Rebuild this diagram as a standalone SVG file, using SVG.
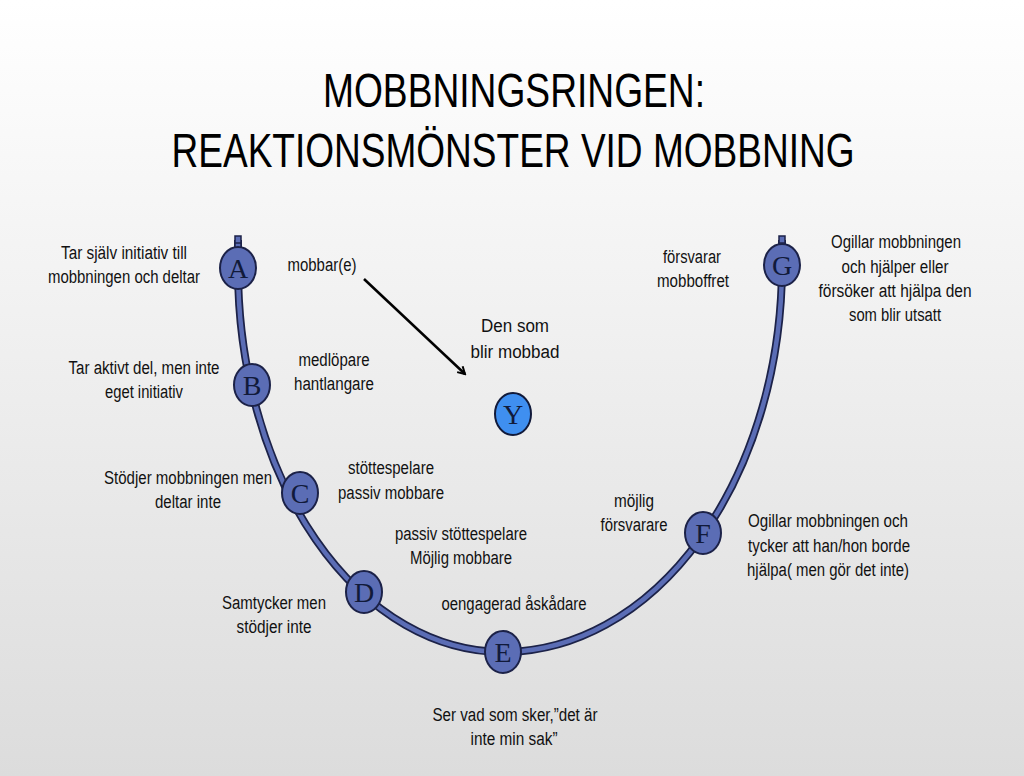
<svg xmlns="http://www.w3.org/2000/svg" width="1024" height="776" viewBox="0 0 1024 776">
<defs>
<linearGradient id="bg" x1="0" y1="0" x2="0" y2="1">
<stop offset="0" stop-color="#ffffff"/>
<stop offset="1" stop-color="#dcdcdc"/>
</linearGradient>
<marker id="arr" markerWidth="10" markerHeight="10" refX="8" refY="5" orient="auto" markerUnits="userSpaceOnUse">
<path d="M1,1 L8,5 L1,9" fill="none" stroke="#000" stroke-width="2"/>
</marker>
<style>
.t{font-family:"Liberation Sans",Arial,sans-serif;font-size:18px;fill:#111;text-anchor:middle}
.title{font-family:"Liberation Sans",Arial,sans-serif;font-size:48px;fill:#000;text-anchor:middle}
.node{fill:#5b6db5;stroke:#1c2248;stroke-width:2}
.nodeY{fill:#3f8ff0;stroke:#111a3a;stroke-width:2}
.lt{font-family:"Liberation Serif","Times New Roman",serif;font-size:28px;fill:#111a3a;text-anchor:middle}
</style>
</defs>
<rect width="1024" height="776" fill="url(#bg)"/>
<text class="title" x="514" y="107" textLength="382" lengthAdjust="spacingAndGlyphs">MOBBNINGSRINGEN:</text>
<text class="title" x="513" y="167" textLength="683" lengthAdjust="spacingAndGlyphs">REAKTIONSMÖNSTER VID MOBBNING</text>
<g id="connectors">
<path d="M238,240 L238,268 A265,384 0 0 0 503,652 A279,387 0 0 0 782,265 L782,240" fill="none" stroke="#1c2248" stroke-width="8"/>
<path d="M238,240 L238,268 A265,384 0 0 0 503,652 A279,387 0 0 0 782,265 L782,240" fill="none" stroke="#5b6db5" stroke-width="4.5"/>
<rect x="235" y="236" width="6" height="7" fill="#5b6db5" stroke="#1c2248" stroke-width="1.5"/>
<rect x="779" y="236" width="6" height="7" fill="#5b6db5" stroke="#1c2248" stroke-width="1.5"/>
<line x1="364" y1="279" x2="465" y2="374" stroke="#000" stroke-width="2.5" marker-end="url(#arr)"/>
</g>
<g id="nodeA"><ellipse class="node" cx="238" cy="268" rx="18" ry="21"/><text class="lt" x="238" y="278">A</text></g>
<g id="nodeB"><ellipse class="node" cx="252" cy="385" rx="18" ry="21"/><text class="lt" x="252" y="395">B</text></g>
<g id="nodeC"><ellipse class="node" cx="300" cy="493" rx="18" ry="21"/><text class="lt" x="300" y="503">C</text></g>
<g id="nodeD"><ellipse class="node" cx="364" cy="592" rx="18" ry="21"/><text class="lt" x="364" y="602">D</text></g>
<g id="nodeE"><ellipse class="node" cx="503" cy="652" rx="18" ry="21"/><text class="lt" x="503" y="662">E</text></g>
<g id="nodeF"><ellipse class="node" cx="703" cy="533" rx="18" ry="21"/><text class="lt" x="703" y="543">F</text></g>
<g id="nodeG"><ellipse class="node" cx="782" cy="265" rx="18" ry="21"/><text class="lt" x="782" y="275">G</text></g>
<g id="nodeY"><ellipse class="nodeY" cx="513" cy="414" rx="18" ry="21"/><text class="lt" x="513" y="424">Y</text></g>
<g id="labels">
<text class="t" x="124" y="259" textLength="126" lengthAdjust="spacingAndGlyphs">Tar själv initiativ till</text>
<text class="t" x="124" y="283" textLength="152" lengthAdjust="spacingAndGlyphs">mobbningen och deltar</text>
<text class="t" x="322" y="271" textLength="69" lengthAdjust="spacingAndGlyphs">mobbar(e)</text>
<text class="t" x="515" y="332" textLength="68" lengthAdjust="spacingAndGlyphs">Den som</text>
<text class="t" x="515" y="358" textLength="89" lengthAdjust="spacingAndGlyphs">blir mobbad</text>
<text class="t" x="692" y="263" textLength="58" lengthAdjust="spacingAndGlyphs">försvarar</text>
<text class="t" x="693" y="287" textLength="72" lengthAdjust="spacingAndGlyphs">mobboffret</text>
<text class="t" x="896" y="248" textLength="130" lengthAdjust="spacingAndGlyphs">Ogillar mobbningen</text>
<text class="t" x="895" y="273" textLength="107" lengthAdjust="spacingAndGlyphs">och hjälper eller</text>
<text class="t" x="895" y="297" textLength="153" lengthAdjust="spacingAndGlyphs">försöker att  hjälpa den</text>
<text class="t" x="895" y="321" textLength="92" lengthAdjust="spacingAndGlyphs">som blir utsatt</text>
<text class="t" x="144" y="374" textLength="151" lengthAdjust="spacingAndGlyphs">Tar aktivt del, men inte</text>
<text class="t" x="144" y="398" textLength="78" lengthAdjust="spacingAndGlyphs">eget initiativ</text>
<text class="t" x="334" y="366" textLength="71" lengthAdjust="spacingAndGlyphs">medlöpare</text>
<text class="t" x="334" y="390" textLength="80" lengthAdjust="spacingAndGlyphs">hantlangare</text>
<text class="t" x="188" y="484" textLength="168" lengthAdjust="spacingAndGlyphs">Stödjer mobbningen men</text>
<text class="t" x="188" y="508" textLength="66" lengthAdjust="spacingAndGlyphs">deltar inte</text>
<text class="t" x="391" y="474" textLength="86" lengthAdjust="spacingAndGlyphs">stöttespelare</text>
<text class="t" x="391" y="499" textLength="106" lengthAdjust="spacingAndGlyphs">passiv mobbare</text>
<text class="t" x="634" y="507" textLength="40" lengthAdjust="spacingAndGlyphs">möjlig</text>
<text class="t" x="634" y="531" textLength="67" lengthAdjust="spacingAndGlyphs">försvarare</text>
<text class="t" x="461" y="540" textLength="132" lengthAdjust="spacingAndGlyphs">passiv stöttespelare</text>
<text class="t" x="461" y="564" textLength="102" lengthAdjust="spacingAndGlyphs">Möjlig mobbare</text>
<text class="t" x="828" y="527" textLength="160" lengthAdjust="spacingAndGlyphs">Ogillar mobbningen och</text>
<text class="t" x="829" y="552" textLength="162" lengthAdjust="spacingAndGlyphs">tycker att han/hon borde</text>
<text class="t" x="828" y="576" textLength="162" lengthAdjust="spacingAndGlyphs">hjälpa( men gör det inte)</text>
<text class="t" x="274" y="609" textLength="104" lengthAdjust="spacingAndGlyphs">Samtycker men</text>
<text class="t" x="274" y="633" textLength="75" lengthAdjust="spacingAndGlyphs">stödjer inte</text>
<text class="t" x="514" y="610" textLength="145" lengthAdjust="spacingAndGlyphs">oengagerad åskådare</text>
<text class="t" x="515" y="721" textLength="165" lengthAdjust="spacingAndGlyphs">Ser vad som sker,”det är</text>
<text class="t" x="514" y="745" textLength="87" lengthAdjust="spacingAndGlyphs">inte min sak”</text>
</g>
</svg>
